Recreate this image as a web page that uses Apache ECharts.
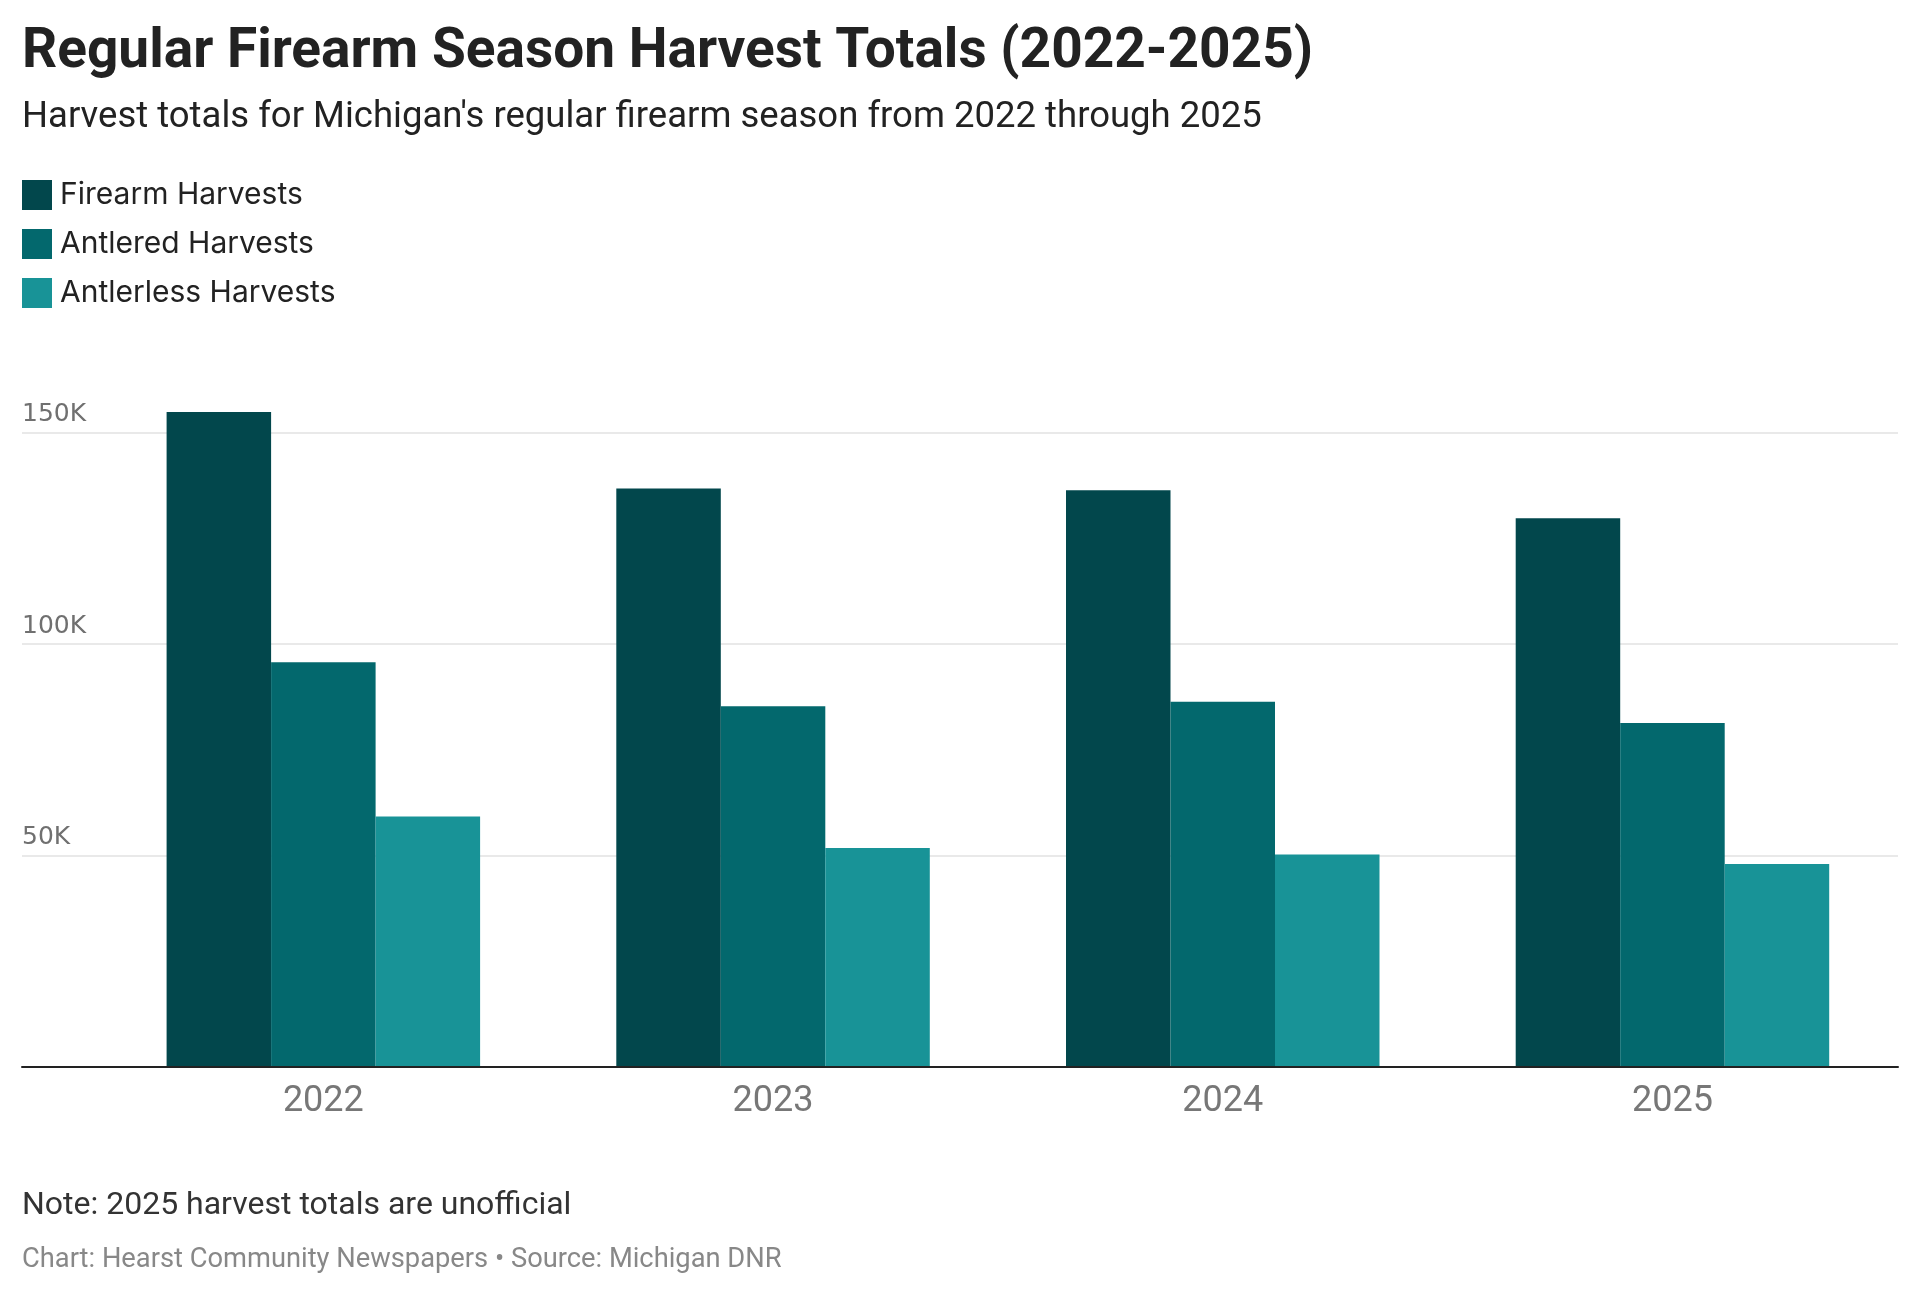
<!DOCTYPE html>
<html>
<head>
<meta charset="utf-8">
<title>Regular Firearm Season Harvest Totals</title>
<script src="https://cdn.jsdelivr.net/npm/echarts@6/dist/echarts.min.js"></script>
<style>
  html, body { margin: 0; padding: 0; background: #fff; }
  #chart { width: 1920px; height: 1299px; }
</style>
</head>
<body>
<div id="chart"></div>
<script>
// data
const years = ['2022', '2023', '2024', '2025'];
const firearmHarvests = [154800, 136700, 136300, 129700];
const antleredHarvests = [95650, 85260, 86300, 81300];
const antlerlessHarvests = [59230, 51730, 50200, 48000];
const seriesNames = ['Firearm Harvests', 'Antlered Harvests', 'Antlerless Harvests'];
const seriesColors = ['#02474c', '#03686d', '#189397'];

const chart = echarts.init(document.getElementById('chart'));

// two grids: the wide one carries gridlines + baseline, the inner one carries the bars
const plotTop = 390;
const plotBottom = 232;

const option = {
  backgroundColor: '#fff',
  animation: false,
  title: [
    {
      text: 'Regular Firearm Season Harvest Totals (2022-2025)',
      left: 22, top: 26, padding: 0,
      textStyle: { fontFamily: 'Roboto', fontSize: 55, fontWeight: 700, color: '#222' }
    },
    {
      text: "Harvest totals for Michigan's regular firearm season from 2022 through 2025",
      left: 22, top: 99, padding: 0,
      textStyle: { fontFamily: 'Roboto', fontSize: 36.5, fontWeight: 400, color: '#222' }
    },
    {
      text: 'Note: 2025 harvest totals are unofficial',
      left: 22, top: 1190, padding: 0,
      textStyle: { fontFamily: 'Roboto', fontSize: 32, fontWeight: 400, color: '#333' }
    },
    {
      text: 'Chart: Hearst Community Newspapers \u2022 Source: Michigan DNR',
      left: 22, top: 1247, padding: 0,
      textStyle: { fontFamily: 'Roboto', fontSize: 27.3, fontWeight: 400, color: '#888' }
    }
  ],
  legend: {
    data: seriesNames,
    orient: 'vertical',
    left: 22, top: 180, padding: 0,
    icon: 'rect',
    itemWidth: 30, itemHeight: 30, itemGap: 19,
    selectedMode: false,
    textStyle: { fontFamily: 'Inter', fontSize: 30, color: '#222', padding: [0, 0, 0, 3] }
  },
  grid: [
    { left: 22, right: 22, top: plotTop, bottom: plotBottom },
    { left: 98.5, right: 22.7, top: plotTop, bottom: plotBottom }
  ],
  xAxis: [
    {
      gridIndex: 0, type: 'category', data: years, z: 5,
      axisLine: { show: true, lineStyle: { color: '#222', width: 2 } },
      axisTick: { show: false }, axisLabel: { show: false }, splitLine: { show: false }
    },
    {
      gridIndex: 1, type: 'category', data: years,
      axisLine: { show: false }, axisTick: { show: false },
      axisLabel: { fontFamily: 'Roboto', fontSize: 36, color: '#777', margin: 17 }
    }
  ],
  yAxis: [
    {
      gridIndex: 0, type: 'value', min: 0, max: 160000, interval: 50000,
      axisLine: { show: false }, axisTick: { show: false },
      splitLine: { show: true, showMinLine: false, showMaxLine: false, lineStyle: { color: '#e2e2e2', width: 1.5 } },
      axisLabel: {
        inside: true, margin: 0, showMinLabel: false, showMaxLabel: false,
        verticalAlign: 'bottom', padding: [0, 0, 5, 0],
        fontFamily: 'DejaVu Sans', fontSize: 25, color: '#707070',
        formatter: v => (v / 1000) + 'K'
      }
    },
    {
      gridIndex: 1, type: 'value', min: 0, max: 160000, show: false,
      splitLine: { show: false }
    }
  ],
  series: [
    { name: seriesNames[0], data: firearmHarvests },
    { name: seriesNames[1], data: antleredHarvests },
    { name: seriesNames[2], data: antlerlessHarvests }
  ].map((s, i) => ({
    name: s.name,
    type: 'bar',
    xAxisIndex: 1,
    yAxisIndex: 1,
    data: s.data,
    barWidth: 104.5,
    barGap: '0%',
    itemStyle: { color: seriesColors[i] }
  }))
};

chart.setOption(option);
</script>
</body>
</html>
